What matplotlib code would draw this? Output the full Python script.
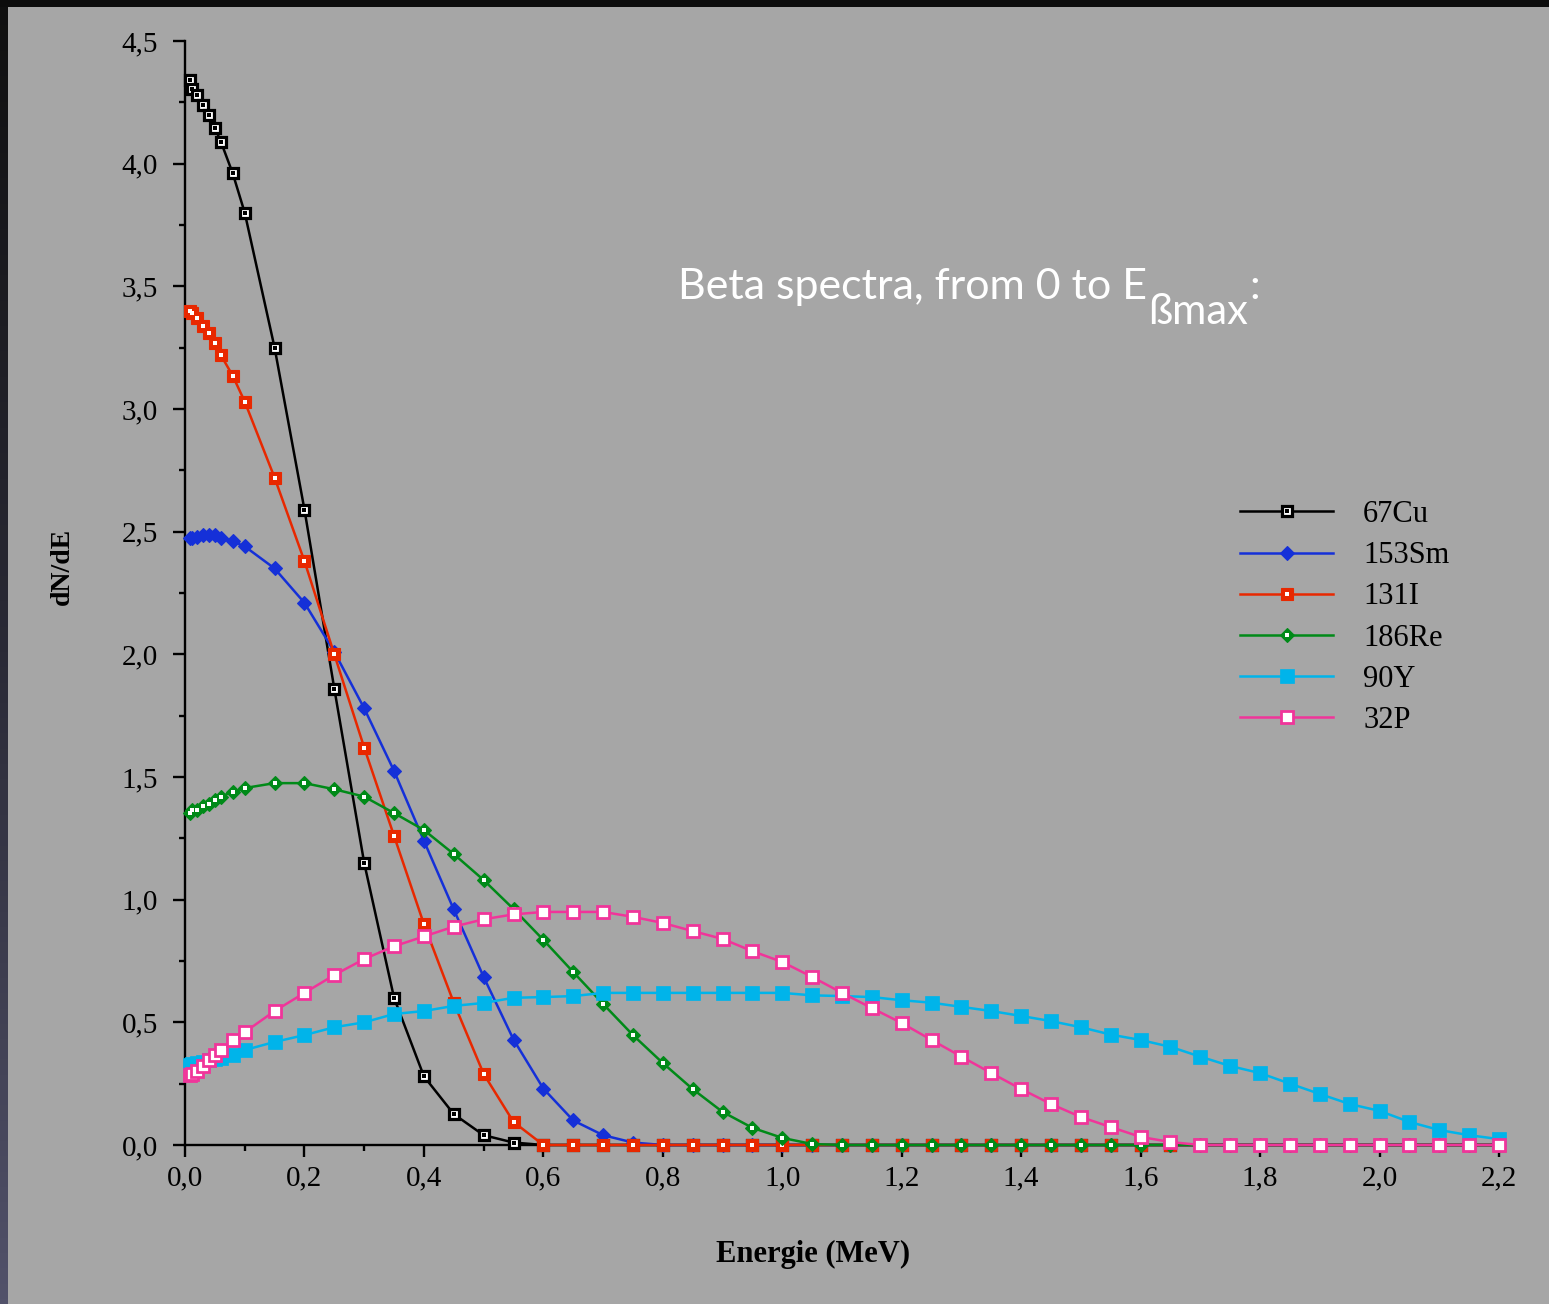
import numpy as np
import matplotlib
matplotlib.use("Agg")
import matplotlib.pyplot as plt
from matplotlib.ticker import MultipleLocator, FuncFormatter
from matplotlib.patches import Rectangle
from matplotlib.colors import LinearSegmentedColormap

# ---------------- data ----------------
energy = [0.008, 0.012, 0.02, 0.03, 0.04, 0.05, 0.06, 0.08, 0.10,
          0.15, 0.20, 0.25, 0.30, 0.35, 0.40, 0.45, 0.50, 0.55, 0.60,
          0.65, 0.70, 0.75, 0.80, 0.85, 0.90, 0.95, 1.00, 1.05, 1.10,
          1.15, 1.20, 1.25, 1.30, 1.35, 1.40, 1.45, 1.50, 1.55, 1.60,
          1.65, 1.70, 1.75, 1.80, 1.85, 1.90, 1.95, 2.00, 2.05, 2.10,
          2.15, 2.20]

cu67 = [4.34, 4.305, 4.28, 4.24, 4.20, 4.146, 4.09, 3.96, 3.80,
        3.25, 2.59, 1.86, 1.15, 0.60, 0.28, 0.126, 0.04, 0.01, 0.0,
        0.0, 0.0, 0.0, 0.0, 0.0, 0.0, 0.0, 0.0, 0.0, 0.0,
        0.0, 0.0, 0.0, 0.0, 0.0, 0.0, 0.0, 0.0, 0.0, 0.0,
        0.0, 0.0, 0.0, 0.0, 0.0, 0.0, 0.0, 0.0, 0.0, 0.0,
        0.0, 0.0]

sm153 = [2.475, 2.475, 2.48, 2.485, 2.487, 2.485, 2.475, 2.46, 2.44,
         2.35, 2.21, 2.01, 1.78, 1.525, 1.24, 0.96, 0.685, 0.43, 0.23,
         0.10, 0.04, 0.01, 0.0, 0.0, 0.0, 0.0, 0.0, 0.0, 0.0,
         0.0, 0.0, 0.0, 0.0, 0.0, 0.0, 0.0, 0.0, 0.0, 0.0,
         0.0, 0.0, 0.0, 0.0, 0.0, 0.0, 0.0, 0.0, 0.0, 0.0,
         0.0, 0.0]

i131 = [3.40, 3.39, 3.37, 3.34, 3.31, 3.27, 3.22, 3.135, 3.03,
        2.72, 2.38, 2.00, 1.62, 1.26, 0.90, 0.58, 0.29, 0.094, 0.0,
        0.0, 0.0, 0.0, 0.0, 0.0, 0.0, 0.0, 0.0, 0.0, 0.0,
        0.0, 0.0, 0.0, 0.0, 0.0, 0.0, 0.0, 0.0, 0.0, 0.0,
        0.0, 0.0, 0.0, 0.0, 0.0, 0.0, 0.0, 0.0, 0.0, 0.0,
        0.0, 0.0]

re186 = [1.353, 1.366, 1.366, 1.38, 1.39, 1.405, 1.42, 1.44, 1.455,
         1.475, 1.475, 1.45, 1.42, 1.353, 1.284, 1.186, 1.08, 0.962, 0.836,
         0.705, 0.575, 0.448, 0.334, 0.228, 0.135, 0.07, 0.029, 0.004, 0.0,
         0.0, 0.0, 0.0, 0.0, 0.0, 0.0, 0.0, 0.0, 0.0, 0.0,
         0.0, 0.0, 0.0, 0.0, 0.0, 0.0, 0.0, 0.0, 0.0, 0.0,
         0.0, 0.0]

y90 = [0.325, 0.33, 0.335, 0.34, 0.345, 0.35, 0.355, 0.367, 0.387,
       0.42, 0.448, 0.48, 0.50, 0.534, 0.546, 0.567, 0.579, 0.60, 0.603,
       0.607, 0.62, 0.62, 0.62, 0.62, 0.62, 0.62, 0.62, 0.61, 0.607,
       0.603, 0.59, 0.58, 0.563, 0.546, 0.526, 0.505, 0.48, 0.45, 0.428,
       0.40, 0.36, 0.322, 0.293, 0.25, 0.208, 0.167, 0.139, 0.094, 0.061,
       0.04, 0.024]

p32 = [0.285, 0.29, 0.30, 0.32, 0.346, 0.367, 0.387, 0.428, 0.46,
       0.546, 0.62, 0.693, 0.758, 0.81, 0.85, 0.89, 0.92, 0.94, 0.95,
       0.95, 0.95, 0.93, 0.905, 0.872, 0.84, 0.79, 0.746, 0.685, 0.62,
       0.558, 0.497, 0.428, 0.36, 0.293, 0.228, 0.167, 0.114, 0.073, 0.033,
       0.012, 0.0, 0.0, 0.0, 0.0, 0.0, 0.0, 0.0, 0.0, 0.0,
       0.0, 0.0]

labels = ["67Cu", "153Sm", "131I", "186Re", "90Y", "32P"]

# ---------------- figure ----------------
BG = "#a6a6a6"
W, H = 1549, 1304
fig = plt.figure(figsize=(W / 100, H / 100), dpi=100, facecolor=BG)

# dark frame (left gradient strip + top strip)
bax = fig.add_axes([0, 0, 8 / W, 1])
grad = np.linspace(0, 1, 256).reshape(-1, 1)
cmap = LinearSegmentedColormap.from_list("frame", ["#101010", "#2a2a36", "#52526a"])
bax.imshow(grad, aspect="auto", cmap=cmap, extent=[0, 1, 0, 1], origin="upper")
bax.set_axis_off()
fig.patches.append(Rectangle((0, 1 - 7 / H), 1, 7 / H, transform=fig.transFigure,
                             facecolor="#0d0d0d", edgecolor="none", zorder=5))

ax = fig.add_axes([185 / W, 1 - 1145 / H, 1314 / W, 1104 / H])
ax.set_facecolor(BG)
ax.set_xlim(0, 2.2)
ax.set_ylim(0, 4.5)

for s in ["top", "right"]:
    ax.spines[s].set_visible(False)
for s in ["left", "bottom"]:
    ax.spines[s].set_linewidth(1.7)
    ax.spines[s].set_color("black")

serif = ["Liberation Serif", "DejaVu Serif"]

ax.xaxis.set_major_locator(MultipleLocator(0.2))
ax.xaxis.set_minor_locator(MultipleLocator(0.1))
ax.yaxis.set_major_locator(MultipleLocator(0.5))
ax.yaxis.set_minor_locator(MultipleLocator(0.25))
fmt = FuncFormatter(lambda v, p: f"{v:.1f}".replace(".", ","))
ax.xaxis.set_major_formatter(fmt)
ax.yaxis.set_major_formatter(fmt)
ax.tick_params(which="major", length=8.6, width=1.7, direction="out", labelsize=21)
ax.tick_params(which="minor", length=4.3, width=1.7, direction="out")
ax.tick_params(axis="y", which="major", pad=11)
ax.tick_params(axis="x", which="major", pad=6)
for lab in ax.get_xticklabels() + ax.get_yticklabels():
    lab.set_fontfamily(serif)

ax.set_xlabel("Energie (MeV)", fontsize=22, fontweight="bold", family=serif, va="center")
ax.xaxis.set_label_coords(0.478, -0.0996)
ax.set_ylabel("dN/dE", fontsize=20, fontweight="bold", family=serif, va="center")
ax.yaxis.set_label_coords(-0.093, 0.524)

LW = 1.8


def series(y, color, marker, ms, mfc, mec, mew, dot=None, dms=2.6, label=None, z=3):
    ln, = ax.plot(energy, y, color=color, lw=LW, marker=marker, ms=ms, mfc=mfc,
                  mec=mec, mew=mew, clip_on=False, zorder=z, label=label)
    if dot is None:
        return ln
    d, = ax.plot(energy, y, ls="none", marker="s", ms=dms, mfc=dot, mec=dot, mew=0,
                 clip_on=False, zorder=z + 0.01)
    return (ln, d)


h_cu = series(cu67, "black", "s", 7.6, "white", "black", 2.3, dot="black", z=3)
h_sm = series(sm153, "#1530d8", "D", 7.2, "#1530d8", "#1530d8", 0.8, z=3.1)
h_i = series(i131, "#e82800", "s", 9.2, "#e82800", "#e82800", 0.8, dot="white", dms=2.3, z=3.2)
h_re = series(re186, "#008a18", "D", 7.0, "#008a18", "#008a18", 0.8, dot="white", dms=2.3, z=3.3)
h_y = series(y90, "#00b4ea", "s", 9.6, "#00b4ea", "#00b4ea", 0.5, z=3.4)
h_p = series(p32, "#f0359a", "s", 8.0, "white", "#f0359a", 2.0, z=3.5)

leg = fig.legend([h_cu, h_sm, h_i, h_re, h_y, h_p], labels,
                 loc="upper left", bbox_to_anchor=(1240 / W, 1 - 500 / H),
                 frameon=False, borderpad=0, borderaxespad=0,
                 handlelength=3.05, handletextpad=0.98, labelspacing=0.4,
                 prop={"family": serif, "size": 22}, numpoints=1)

# title-like annotation (white, sans)
sans = ["Lato", "Open Sans", "DejaVu Sans"]
t1 = ax.text(0.825, 3.45, "Beta spectra, from 0 to E", color="white",
             fontsize=31, family=sans, ha="left", va="baseline")
t2 = ax.annotate("ßmax", xy=(1, 0), xycoords=t1, xytext=(1, -18),
                 textcoords="offset points", color="white", fontsize=30,
                 family=sans, ha="left", va="bottom")
t3 = ax.annotate(":", xy=(1, 0), xycoords=(t2, t1), xytext=(1, 0),
                 textcoords="offset points", color="white", fontsize=31,
                 family=sans, ha="left", va="bottom")

fig.savefig("out.png", dpi=100, facecolor=BG)
